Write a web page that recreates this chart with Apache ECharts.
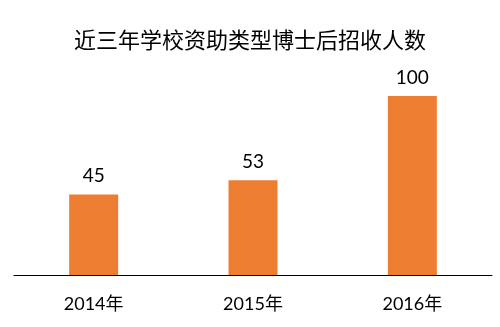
<!DOCTYPE html>
<html><head><meta charset="utf-8">
<script src="https://cdn.jsdelivr.net/npm/echarts@6/dist/echarts.min.js"></script>
<style>html,body{margin:0;padding:0;background:#fff}#c{width:500px;height:327px}</style>
</head><body><div id="c"></div>
<script>
const titleText = '近三年学校资助类型博士后招收人数';
const categories = ['2014年', '2015年', '2016年'];
const values = [45, 53, 100];
const chart = echarts.init(document.getElementById('c'));
chart.setOption({
  animation: false,
  title: {
    text: titleText, left: 'center', top: 24,
    textStyle: { fontFamily: 'Noto Sans CJK SC', fontSize: 22, fontWeight: 'normal', color: '#000' }
  },
  grid: { left: 14, right: 8, top: 96, bottom: 52 },
  xAxis: {
    type: 'category', data: categories,
    axisLine: { lineStyle: { color: '#000', width: 1 } },
    axisTick: { show: false },
    axisLabel: { fontFamily: 'Lato, Noto Sans CJK SC', fontSize: 18, color: '#000', margin: 20 }
  },
  yAxis: { type: 'value', min: 0, max: 100, show: false, splitLine: { show: false } },
  series: [{
    type: 'bar', data: values, barWidth: 49,
    itemStyle: { color: '#ED7D31' },
    label: { show: true, position: 'top', distance: 9, fontFamily: 'Lato', fontSize: 19, color: '#000' }
  }]
});
</script></body></html>
